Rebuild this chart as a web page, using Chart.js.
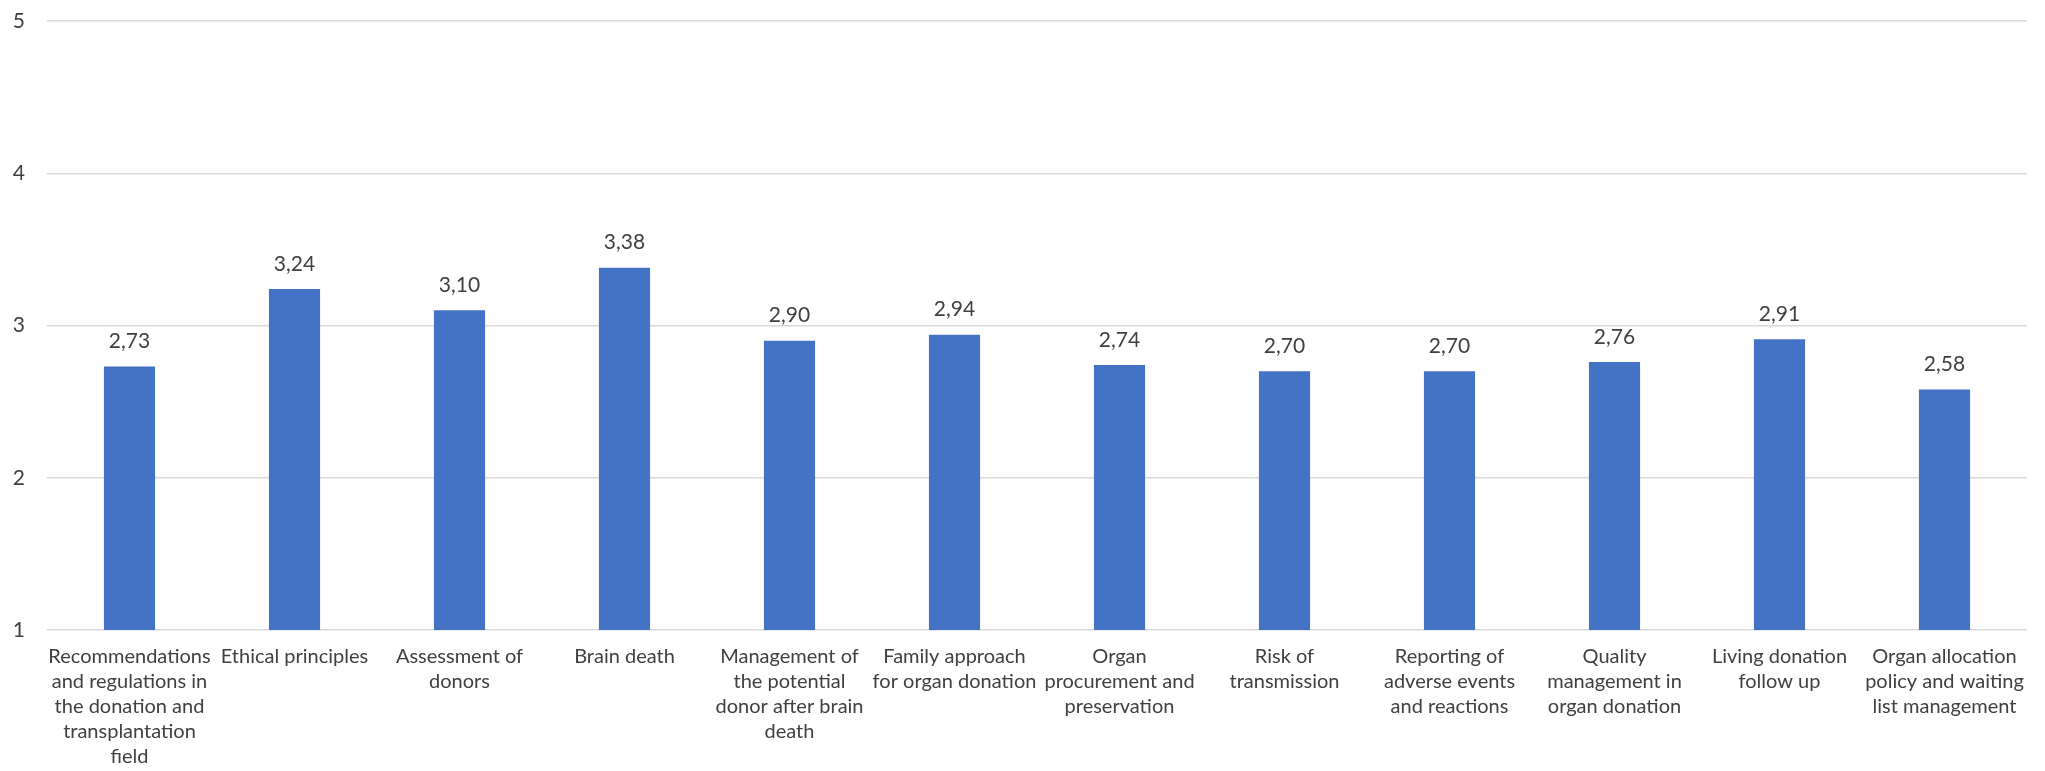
<!DOCTYPE html>
<html>
<head>
<meta charset="utf-8">
<script src="https://cdn.jsdelivr.net/npm/chart.js@4/dist/chart.umd.min.js"></script>
<style>
  html, body { margin: 0; padding: 0; background: #fff; }
  #wrap { width: 2045px; height: 771px; }
</style>
</head>
<body>
<div id="wrap"><canvas id="grafico"></canvas></div>
<script>
// categorias (ya partidas en lineas como en el original)
var categorias = [
    ['Recommendations', 'and regulations in', 'the donation and', 'transplantation', 'field'],
    ['Ethical principles'],
    ['Assessment of', 'donors'],
    ['Brain death'],
    ['Management of', 'the potential', 'donor after brain', 'death'],
    ['Family approach', 'for organ donation'],
    ['Organ', 'procurement and', 'preservation'],
    ['Risk of', 'transmission'],
    ['Reporting of', 'adverse events', 'and reactions'],
    ['Quality', 'management in', 'organ donation'],
    ['Living donation', 'follow up'],
    ['Organ allocation', 'policy and waiting', 'list management']
];
var valores = [2.73, 3.24, 3.10, 3.38, 2.90, 2.94, 2.74, 2.70, 2.70, 2.76, 2.91, 2.58];
var ticksY = [1, 2, 3, 4, 5];

var colorTexto = '#404040';
var fuente = 'Lato, "Open Sans", sans-serif';

// etiquetas encima de cada barra, con coma decimal
var etiquetasBarras = {
    id: 'etiquetasBarras',
    afterDatasetsDraw: function(chart) {
        var ctx = chart.ctx;
        var meta = chart.getDatasetMeta(0);
        ctx.save();
        ctx.font = '21px ' + fuente;
        ctx.fillStyle = colorTexto;
        ctx.textAlign = 'center';
        ctx.textBaseline = 'middle';
        meta.data.forEach(function(bar, i) {
            var txt = valores[i].toFixed(2).replace('.', ',');
            ctx.fillText(txt, bar.x, bar.y - 25);
        });
        ctx.restore();
    }
};

function generarGrafico() {
    var ctx = document.getElementById('grafico').getContext('2d');
    var myChart = new Chart(ctx, {
        type: 'bar',
        data: {
            labels: categorias,
            datasets: [{
                data: valores,
                backgroundColor: '#4472C4',
                borderWidth: 0,
                barPercentage: 0.62,
                categoryPercentage: 0.5
            }]
        },
        options: {
            responsive: true,
            maintainAspectRatio: false,
            animation: false,
            layout: { padding: { top: 21, right: 18, left: 0, bottom: 0 } },
            plugins: {
                legend: { display: false },
                tooltip: { enabled: false }
            },
            scales: {
                x: {
                    grid: { display: false, drawTicks: false },
                    border: { display: false },
                    ticks: {
                        color: colorTexto,
                        font: { family: fuente, size: 20, lineHeight: 1.25 },
                        padding: 14,
                        maxRotation: 0,
                        autoSkip: false
                    },
                    afterFit: function(scale) {
                        scale.height = 141;
                        scale.paddingLeft = 0;
                        scale.paddingRight = 0;
                    }
                },
                y: {
                    min: 1,
                    max: 5,
                    afterBuildTicks: function(scale) {
                        scale.ticks = ticksY.map(function(v) { return { value: v }; });
                    },
                    grid: { color: '#D9D9D9', lineWidth: 1.5, drawTicks: false },
                    border: { display: false },
                    ticks: {
                        color: colorTexto,
                        font: { family: fuente, size: 21 },
                        padding: 22
                    },
                    afterFit: function(scale) {
                        scale.width = 47;
                        scale.paddingTop = 0;
                        scale.paddingBottom = 0;
                    }
                }
            }
        },
        plugins: [etiquetasBarras]
    });
}

generarGrafico();
</script>
</body>
</html>
